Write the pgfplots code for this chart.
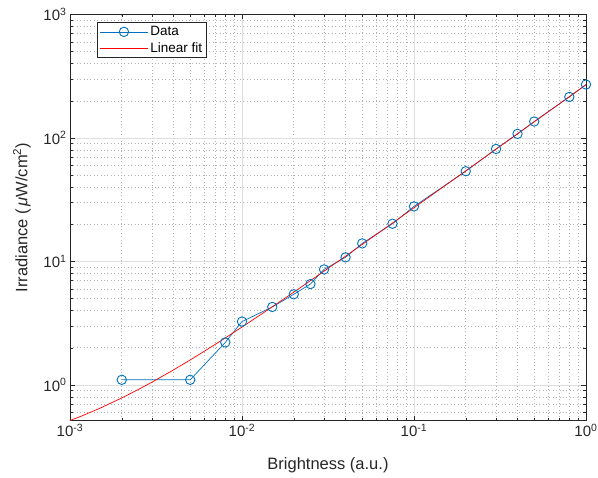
\documentclass[border=0pt]{standalone}
\usepackage{pgfplots}
\pgfplotsset{compat=1.18}
\usepackage{fontspec}
\setmainfont{Liberation Sans}
\definecolor{mblue}{rgb}{0,0.447,0.741}
\definecolor{axgray}{rgb}{0.15,0.15,0.15}
\begin{document}
\begin{tikzpicture}
\begin{axis}[
  xmode=log, ymode=log,
  scale only axis, width=516pt, height=406pt,
  xmin=1e-3, xmax=1, ymin=0.515, ymax=1000,
  xtick={0.001,0.01,0.1,1},
  xticklabels={10\textsuperscript{-3},10\textsuperscript{-2},10\textsuperscript{-1},10\textsuperscript{0}},
  ytick={1,10,100,1000},
  yticklabels={10\textsuperscript{0},10\textsuperscript{1},10\textsuperscript{2},10\textsuperscript{3}},
  minor xtick={0.002,0.003,0.004,0.005,0.006,0.007,0.008,0.009,0.02,0.03,0.04,0.05,0.06,0.07,0.08,0.09,0.2,0.3,0.4,0.5,0.6,0.7,0.8,0.9},
  minor ytick={0.6,0.7,0.8,0.9,2,3,4,5,6,7,8,9,20,30,40,50,60,70,80,90,200,300,400,500,600,700,800,900},
  grid=both,
  major grid style={color=black!13, line width=0.6pt},
  minor grid style={color=black!30, dash pattern=on 0.8pt off 2.6pt, line width=0.6pt},
  axis line style={color=axgray, line width=0.6pt},
  tick style={color=axgray, line width=0.5pt},
  major tick length=5pt, minor tick length=3pt,
  tick label style={font=\fontsize{15}{17}\selectfont, color=axgray},
  xlabel={Brightness (a.u.)},
  ylabel={Irradiance (\,\textit{μ}W/cm\textsuperscript{2})},
  label style={font=\fontsize{16.5}{18}\selectfont, color=axgray},
  xlabel style={at={(axis description cs:0.5,-0.109)}, anchor=center},
  ylabel style={at={(axis description cs:-0.093,0.5)}, anchor=center},
  legend style={at={(0.053,0.981)}, anchor=north west, draw=axgray, line width=0.5pt,
    font=\fontsize{13.5}{15}\selectfont, text=black, inner xsep=2pt, inner ysep=2pt,
    cells={anchor=west}, row sep=1pt},
  legend image code/.code={\draw[mark repeat=2,mark phase=2,#1] plot coordinates {(0pt,0pt) (24pt,0pt) (48pt,0pt)};},
]
\addplot[mblue, line width=0.7pt, mark=o, mark size=4.7pt, mark options={line width=0.9pt}] coordinates {
(0.002,1.10) (0.005,1.10) (0.008,2.21) (0.01,3.26) (0.015,4.28) (0.02,5.42)
(0.025,6.56) (0.03,8.62) (0.04,10.8) (0.05,14.0) (0.075,20.2) (0.1,27.9)
(0.2,53.8) (0.3,81.5) (0.4,108) (0.5,136) (0.8,215) (1.0,271)
};
\addlegendentry{Data}
\addplot[red, line width=0.7pt, no marks] coordinates {
(0.001,0.5147) (0.0012,0.5686) (0.0015,0.6496) (0.002,0.7844) (0.0025,0.9193)
(0.003,1.0541) (0.004,1.3238) (0.005,1.5935) (0.006,1.8632) (0.008,2.4026)
(0.01,2.942) (0.015,4.2905) (0.02,5.639) (0.03,8.336) (0.05,13.73)
(0.1,27.215) (0.2,54.185) (0.5,135.095) (1,269.945)
};
\addlegendentry{Linear fit}
\end{axis}
\pgfresetboundingbox
\path ([xshift=-70pt,yshift=-57.3pt]current axis.south west) rectangle ([xshift=12pt,yshift=14.5pt]current axis.north east);
\end{tikzpicture}
\end{document}
